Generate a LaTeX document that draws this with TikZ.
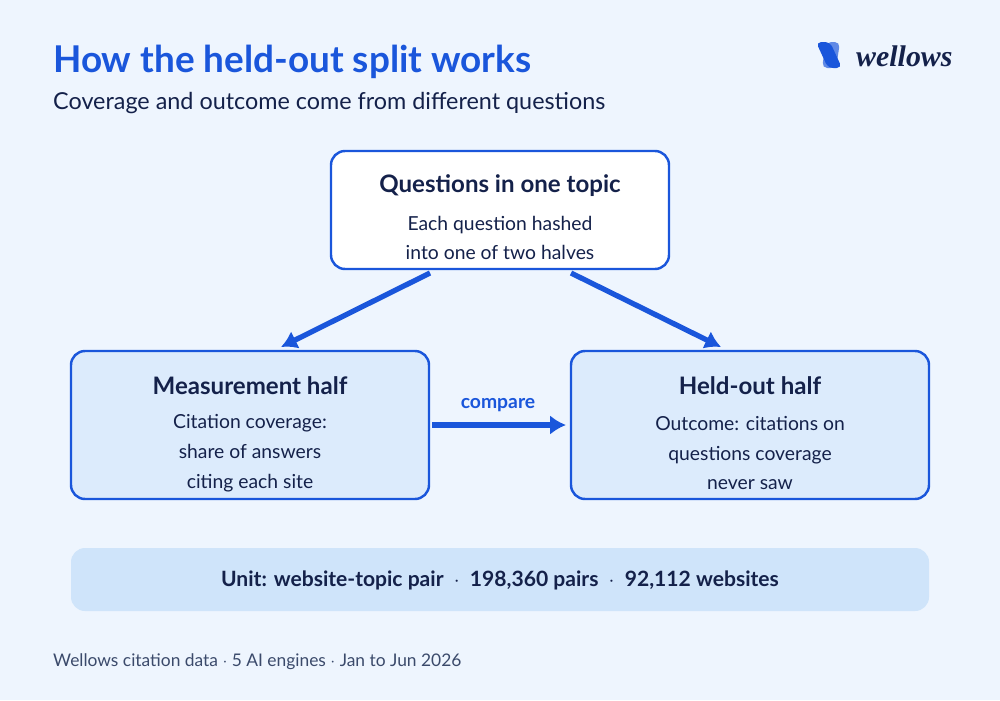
\documentclass[tikz,border=0pt]{standalone}
\usepackage{fontspec}
\setmainfont{Lato}
\newfontfamily\logofont{Liberation Serif}
\usetikzlibrary{arrows.meta}
\definecolor{bg}{HTML}{EEF5FE}
\definecolor{navy}{HTML}{14214A}
\definecolor{brand}{HTML}{1A56DB}
\definecolor{boxfill}{HTML}{DCEBFC}
\definecolor{band}{HTML}{CFE4FA}
\definecolor{foot}{HTML}{3B4A6B}
\begin{document}
\begin{tikzpicture}[x=0.02cm,y=-0.02cm,
  box/.style={draw=brand,line width=1.4pt,rounded corners=8pt},
  arr/.style={draw=brand,line width=3pt,-{Latex[length=9pt,width=11pt]}},
  head/.style={font=\fontsize{13.7}{16}\selectfont\bfseries,text=navy},
  body/.style={font=\fontsize{11}{17}\selectfont,text=navy,align=center}]
\fill[bg] (0,0) rectangle (1000,700);
\useasboundingbox (0,0) rectangle (1000,700);
\node[anchor=west,text=brand,font=\fontsize{21}{24}\selectfont\bfseries] (title) at (47,62) {How the held-out split works};
\node[anchor=west,text=navy,font=\fontsize{13.3}{16}\selectfont] (sub) at (47,103) {Coverage and outcome come from different questions};
% logo
\fill[brand!70!white,rounded corners=3pt] (826,42) -- (840,42) -- (836,68) -- (822,68) -- cycle;
\fill[brand,rounded corners=3pt] (816,42) -- (830,42) -- (842,68) -- (828,68) -- cycle;
\node[anchor=west,text=navy,font=\logofont\fontsize{17}{20}\selectfont\bfseries\itshape] (logo) at (850,56) {wellows};
% boxes
\draw[box,fill=white] (331,151) rectangle (669,269);
\draw[box,fill=boxfill] (71,351) rectangle (429,499);
\draw[box,fill=boxfill] (571,351) rectangle (929,499);
\node[head] (h1) at (500,186) {Questions in one topic};
\node[body] (b1) at (500,238) {Each question hashed\\into one of two halves};
\node[head] (h2) at (250,386) {Measurement half};
\node[body] (b2) at (250,453) {Citation coverage:\\share of answers\\citing each site};
\node[head] (h3) at (750,386) {Held-out half};
\node[body] (b3) at (750,453) {Outcome: citations on\\questions coverage\\never saw};
\coordinate (a1s) at (430,273); \coordinate (a1e) at (281,347);
\coordinate (a2s) at (571,273); \coordinate (a2e) at (721,347);
\coordinate (cs) at (432,425); \coordinate (ce) at (566,425);
\draw[arr] (a1s) -- (a1e);
\draw[arr] (a2s) -- (a2e);
\draw[arr] (cs) -- (ce);
\node[text=brand,font=\fontsize{11}{13}\selectfont\bfseries] (cmp) at (498,405) {compare};
\fill[band,rounded corners=8pt] (71,548) rectangle (929,611);
\node[text=navy,font=\fontsize{12}{14}\selectfont\bfseries] (unit) at (500,580) {Unit: website-topic pair \ $\cdot$ \ 198,360 pairs \ $\cdot$ \ 92,112 websites};
\node[anchor=west,text=foot,font=\fontsize{9.9}{12}\selectfont] (ft) at (47,662) {Wellows citation data $\cdot$ 5 AI engines $\cdot$ Jan to Jun 2026};
\end{tikzpicture}
\end{document}
